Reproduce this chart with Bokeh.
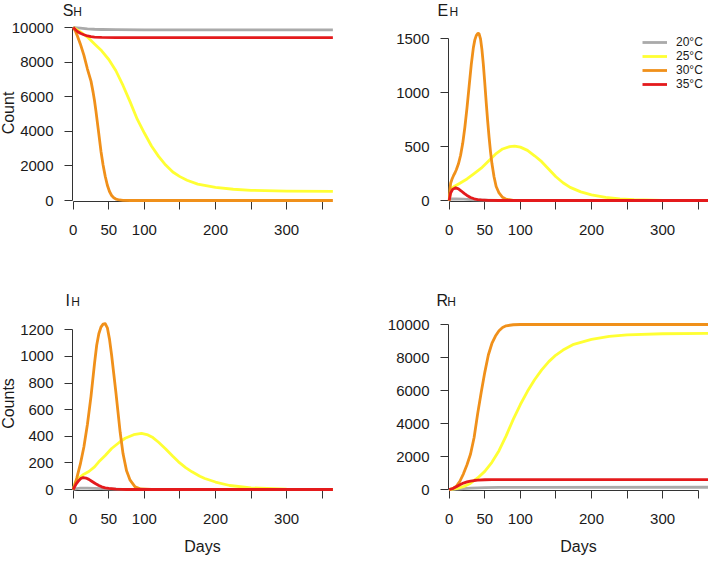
import numpy as np
from bokeh.plotting import figure
from bokeh.models import FixedTicker, Label, Legend, LegendItem, Range1d
from bokeh.layouts import row, column
from bokeh.embed import file_html
from bokeh.resources import INLINE

# ---------------- data ----------------
temps = ["20°C", "25°C", "30°C", "35°C"]
colors = ["#AAAAAA", "#FFFF33", "#F0901A", "#E41A1C"]

# S_H
s20_d = [0, 5, 10, 20, 30, 40, 60, 100, 365]
s20_v = [10000, 9980, 9960, 9925, 9900, 9885, 9872, 9866, 9865]
s25_d = [0, 5, 10, 20, 30, 40, 50, 60, 70, 80, 90, 100, 110, 120, 130, 140, 150, 160, 175, 200, 225, 250, 300, 365]
s25_v = [10000, 9880, 9750, 9450, 9050, 8650, 8150, 7500, 6650, 5700, 4700, 3900, 3150, 2550, 2050, 1650, 1380, 1170, 950, 760, 650, 590, 545, 530]
s30_d = [0, 3, 6, 10, 15, 20, 25, 28, 30, 32, 34, 36, 39, 42, 45, 48, 51, 54, 57, 60, 65, 70, 80, 365]
s30_v = [10000, 9800, 9500, 9050, 8400, 7600, 6900, 6250, 5750, 5150, 4500, 3850, 2850, 2050, 1400, 880, 520, 290, 160, 85, 30, 10, 0, 0]
s35_d = [0, 3, 6, 10, 15, 20, 25, 30, 40, 60, 365]
s35_v = [10000, 9880, 9770, 9670, 9580, 9510, 9470, 9445, 9425, 9415, 9410]

# E_H
e20_d = [0, 2, 10, 20, 30, 40, 50, 70, 90, 365]
e20_v = [0, 14, 15, 12, 8, 5, 3, 1, 0, 0]
e25_d = [0, 2, 4, 7, 15, 25, 35, 45, 55, 65, 75, 85, 92, 100, 110, 120, 130, 140, 150, 160, 170, 185, 200, 220, 240, 260, 300, 365]
e25_v = [0, 90, 115, 130, 160, 200, 250, 300, 365, 430, 478, 500, 505, 495, 465, 415, 360, 290, 220, 165, 122, 80, 52, 28, 14, 7, 2, 0]
e30_d = [0, 1, 2, 4, 6, 8, 10, 13, 16, 19, 22, 25, 28, 31, 34, 36, 38, 40, 41, 42, 44, 46, 48, 50, 52, 54, 56, 58, 60, 63, 66, 70, 75, 80, 90, 100, 365]
e30_v = [0, 100, 160, 200, 230, 255, 285, 340, 420, 530, 680, 860, 1060, 1260, 1420, 1490, 1530, 1548, 1550, 1545, 1500, 1400, 1260, 1090, 910, 740, 590, 455, 345, 220, 130, 70, 30, 12, 2, 0, 0]
e35_d = [0, 2, 5, 9, 13, 17, 21, 25, 30, 35, 40, 45, 55, 70, 365]
e35_v = [0, 70, 105, 118, 108, 88, 66, 47, 28, 16, 9, 5, 1, 0, 0]

# I_H
i20_d = [0, 5, 10, 20, 30, 40, 50, 70, 90, 365]
i20_v = [0, 7, 10, 11, 9, 6, 4, 1, 0, 0]
i25_d = [0, 3, 6, 10, 15, 22, 30, 36, 45, 54, 65, 73, 85, 96, 105, 112, 120, 130, 140, 148, 158, 167, 178, 185, 200, 220, 250, 300, 365]
i25_v = [0, 55, 80, 95, 115, 135, 170, 208, 255, 308, 355, 385, 412, 421, 410, 390, 355, 305, 250, 208, 165, 133, 100, 83, 56, 30, 12, 3, 0]
i30_d = [0, 2, 5, 10, 15, 20, 25, 30, 33, 36, 39, 42, 45, 48, 51, 54, 57, 60, 63, 66, 70, 75, 80, 87, 95, 110, 365]
i30_v = [0, 30, 85, 190, 320, 490, 700, 950, 1084, 1170, 1220, 1243, 1247, 1215, 1130, 1009, 870, 730, 580, 430, 270, 140, 70, 20, 4, 0, 0]
i35_d = [0, 4, 8, 11, 14, 18, 22, 26, 31, 36, 40, 45, 50, 60, 75, 365]
i35_v = [0, 40, 68, 84, 90, 86, 76, 62, 45, 30, 20, 12, 8, 3, 0, 0]

# R_H
r20_d = [0, 10, 20, 30, 40, 50, 70, 100, 365]
r20_v = [0, 20, 50, 80, 100, 115, 128, 133, 135]
r25_d = [0, 10, 20, 30, 40, 50, 60, 70, 80, 90, 100, 110, 120, 130, 140, 150, 160, 175, 200, 225, 250, 300, 365]
r25_v = [0, 50, 170, 380, 700, 1100, 1650, 2350, 3250, 4250, 5150, 5950, 6650, 7250, 7750, 8150, 8450, 8800, 9100, 9280, 9370, 9440, 9460]
r30_d = [0, 5, 10, 15, 20, 25, 30, 35, 40, 45, 50, 55, 60, 65, 70, 75, 80, 90, 100, 365]
r30_v = [0, 50, 200, 500, 950, 1500, 2150, 3150, 4600, 5900, 7100, 8150, 8850, 9300, 9620, 9820, 9920, 9985, 10000, 10000]
r35_d = [0, 5, 10, 15, 20, 25, 30, 35, 40, 50, 60, 80, 365]
r35_v = [0, 60, 170, 290, 390, 460, 510, 545, 568, 590, 598, 600, 600]

x_major = [0, 50, 100, 200, 300]
x_minor = [150, 250, 350]
yt_S = [0, 2000, 4000, 6000, 8000, 10000]
yt_E = [0, 500, 1000, 1500]
yt_I = [0, 200, 400, 600, 800, 1000, 1200]
yt_R = [0, 2000, 4000, 6000, 8000, 10000]

# ---------------- styling ----------------
FONT = "Liberation Sans"
AXC = "#333333"
TXT = "#1a1a1a"
LW = 2.8
PX_PER_DAY = 0.7114


def build(series, yticks, span_px, fig_w, fig_h, bl, br, bt, bb,
          main, sub, t_dx, h_dx, t_dy, title_side,
          ylab=None, ylab_dx=0, ylab_dy=0, xlab=None, legend=None):
    frame_w = fig_w - bl - br
    frame_h = fig_h - bt - bb
    x_lo = -1.0
    x_hi = x_lo + frame_w / PX_PER_DAY
    ppu = span_px / yticks[-1]
    y_lo = -1.0 / ppu
    y_hi = y_lo + frame_h / ppu
    p = figure(width=fig_w, height=fig_h,
               x_range=Range1d(x_lo, x_hi), y_range=Range1d(y_lo, y_hi),
               output_backend="svg", toolbar_location=None,
               min_border_left=bl, min_border_right=br,
               min_border_top=bt, min_border_bottom=bb)
    p.outline_line_color = None
    p.xgrid.visible = False
    p.ygrid.visible = False
    rs = []
    for (d, v), c in zip(series, colors):
        r = p.line(d, v, line_color=c, line_width=LW, line_join="round")
        r.level = "overlay"
        rs.append(r)
    xa = p.xaxis[0]
    ya = p.yaxis[0]
    xa.ticker = FixedTicker(ticks=x_major, minor_ticks=x_minor)
    xa.minor_tick_out = 8
    xa.minor_tick_in = 0
    xa.minor_tick_line_color = AXC
    ya.ticker = FixedTicker(ticks=yticks, minor_ticks=[])
    ya.minor_tick_line_color = None
    for a in (xa, ya):
        a.axis_line_color = AXC
        a.major_tick_line_color = AXC
        a.major_tick_out = 8
        a.major_tick_in = 0
        a.major_label_text_font = FONT
        a.major_label_text_font_size = "15px"
        a.major_label_text_color = TXT
        a.axis_label_text_font = FONT
        a.axis_label_text_font_style = "normal"
        a.axis_label_text_font_size = "16px"
        a.axis_label_text_color = TXT
    xa.bounds = (0, 350)
    ya.bounds = (0, yticks[-1])
    xa.major_label_standoff = 15
    ya.major_label_standoff = 11
    if xlab:
        xa.axis_label = xlab
        xa.axis_label_standoff = 11
    if ylab:
        # vertical axis title, drawn at the far left of the figure
        p.add_layout(Label(x=x_lo, y=(y_lo + y_hi) / 2, text=ylab, angle=np.pi / 2,
                           x_offset=ylab_dx, y_offset=ylab_dy,
                           text_font=FONT, text_font_size="16px", text_color=TXT,
                           text_align="center", text_baseline="middle"), "right")
    # panel title with a subscript, anchored at the top-left corner of the data area
    p.add_layout(Label(x=0, y=y_hi, text=main, x_offset=t_dx, y_offset=t_dy,
                       text_font=FONT, text_font_size="16px", text_color=TXT,
                       text_align="left", text_baseline="alphabetic"), title_side)
    p.add_layout(Label(x=0, y=y_hi, text=sub, x_offset=h_dx, y_offset=t_dy - 1.6,
                       text_font=FONT, text_font_size="12px", text_color=TXT,
                       text_align="left", text_baseline="alphabetic"), title_side)
    if legend is not None:
        lg = Legend(items=[LegendItem(label=t, renderers=[r]) for t, r in zip(temps, rs)],
                    location=legend, orientation="vertical",
                    label_text_font=FONT, label_text_font_size="12px", label_text_color=TXT,
                    glyph_width=25, glyph_height=14, label_height=14, label_standoff=9,
                    spacing=0, padding=0, margin=0,
                    border_line_color=None, background_fill_alpha=0)
        p.add_layout(lg)
    return p


TOP_H, TOP_BT, TOP_BB = 275, 24, 74
BOT_H, BOT_BT, BOT_BB = 285, 45, 70
L_W, L_BL, L_BR = 358, 72, 26
R_W, R_BL, R_BR = 350, 90, 0

p1 = build([(s20_d, s20_v), (s25_d, s25_v), (s30_d, s30_v), (s35_d, s35_v)], yt_S, 173.0,
           L_W, TOP_H, L_BL, L_BR, TOP_BT, TOP_BB, "S", "H", -10.5, 0, 13.8, "below",
           ylab="Count", ylab_dx=-64.5, ylab_dy=0)
p2 = build([(e20_d, e20_v), (e25_d, e25_v), (e30_d, e30_v), (e35_d, e35_v)], yt_E, 161.7,
           R_W, TOP_H, R_BL, R_BR, TOP_BT, TOP_BB, "E", "H", -11.6, 0.3, 13.8, "below",
           legend=(194, 110))
p3 = build([(i20_d, i20_v), (i25_d, i25_v), (i30_d, i30_v), (i35_d, i35_v)], yt_I, 159.7,
           L_W, BOT_H, L_BL, L_BR, BOT_BT, BOT_BB, "I", "H", -7.8, -2, 20.5, "above",
           ylab="Counts", ylab_dx=-64.5, ylab_dy=2, xlab="Days")
p4 = build([(r20_d, r20_v), (r25_d, r25_v), (r30_d, r30_v), (r35_d, r35_v)], yt_R, 165.0,
           R_W, BOT_H, R_BL, R_BR, BOT_BT, BOT_BB, "R", "H", -12.6, -2, 20.5, "above",
           xlab="Days")

layout = column(row(p1, p2), row(p3, p4))
open("out.html", "w").write(file_html(layout, INLINE))
